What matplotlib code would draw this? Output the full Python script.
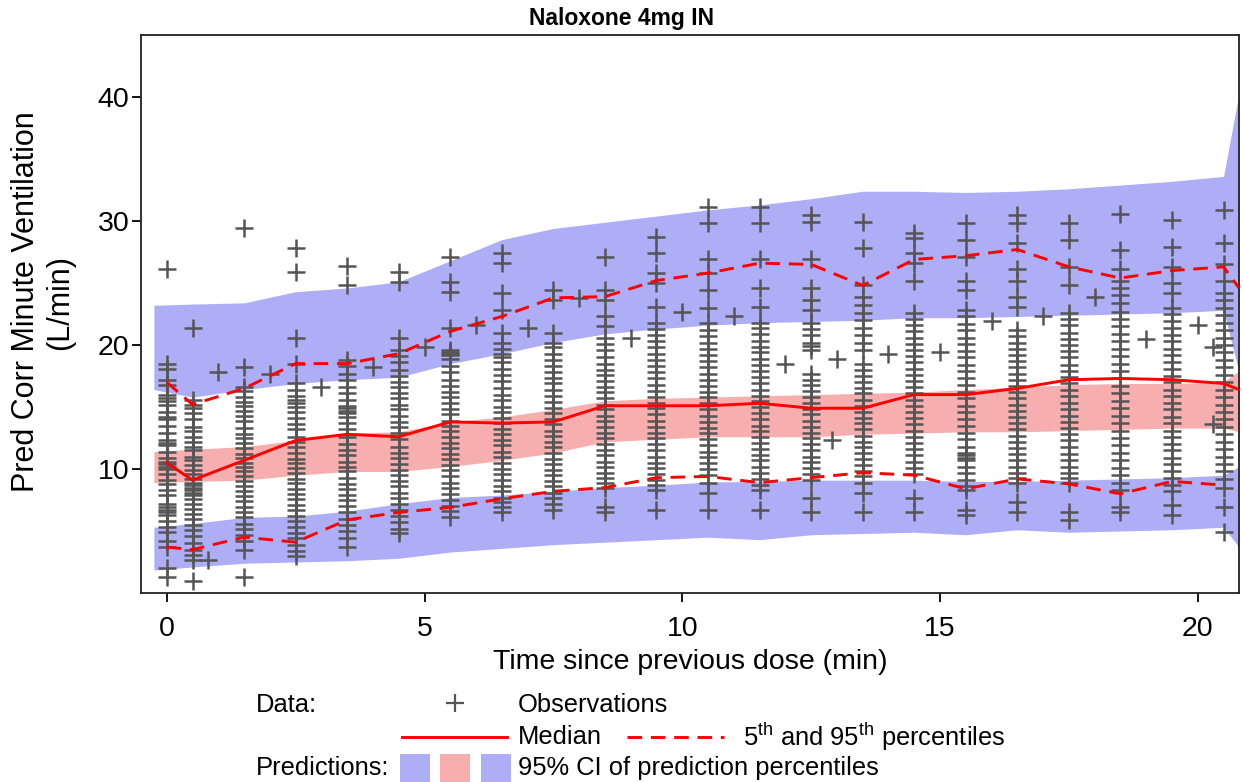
import matplotlib
matplotlib.use('Agg')
import matplotlib.pyplot as plt
from matplotlib.lines import Line2D
from matplotlib.patches import Rectangle

plt.rcParams['font.family'] = ['Liberation Sans', 'DejaVu Sans']
plt.rcParams['mathtext.fontset'] = 'custom'
plt.rcParams['mathtext.rm'] = 'Liberation Sans'
plt.rcParams['mathtext.it'] = 'Liberation Sans'

# ---------------- data ----------------
title = "Naloxone 4mg IN"
xlabel = "Time since previous dose (min)"
ylabel = "Pred Corr Minute Ventilation\n(L/min)"
xticks = [0, 5, 10, 15, 20]
yticks = [10, 20, 30, 40]

# prediction interval bands (vertices)
band_t = [-0.25, 0.5, 1.5, 2.5, 3.5, 4.5, 5.5, 6.5, 7.5, 8.5, 9.5, 10.5,
          11.5, 12.5, 13.5, 14.5, 15.5, 16.5, 17.5, 18.5, 19.5, 20.5, 20.8]
upper_ci_hi = [23.2, 23.3, 23.4, 24.3, 24.6, 25.1, 26.8, 28.5, 29.4, 29.9, 30.4, 30.9,
               31.3, 31.8, 32.4, 32.4, 32.3, 32.4, 32.6, 32.9, 33.2, 33.6, 40.3]
upper_ci_lo = [16.4, 15.8, 16.4, 16.9, 17.2, 17.4, 18.5, 19.3, 20.2, 20.9, 21.3, 21.6,
               21.8, 21.9, 22.0, 22.2, 22.2, 22.3, 22.4, 22.5, 22.6, 22.8, 17.8]
median_ci_hi = [11.4, 11.6, 11.8, 12.3, 12.9, 13.0, 13.8, 14.2, 14.8, 15.5, 15.7, 15.8,
                15.9, 16.0, 16.1, 16.2, 16.4, 16.6, 16.8, 16.9, 16.9, 17.0, 17.9]
median_ci_lo = [8.9, 9.0, 9.1, 9.5, 9.8, 9.8, 10.2, 10.7, 11.3, 12.2, 12.4, 12.6,
                12.6, 12.6, 12.8, 12.9, 13.0, 13.0, 13.1, 13.2, 13.3, 13.3, 13.0]
lower_ci_hi = [5.3, 5.6, 6.1, 6.2, 6.6, 7.2, 7.7, 7.9, 8.2, 8.5, 8.7, 8.95,
               9.0, 9.1, 9.1, 9.1, 9.0, 9.0, 9.1, 9.2, 9.3, 9.5, 10.2]
lower_ci_lo = [1.85, 2.1, 2.4, 2.5, 2.6, 2.8, 3.3, 3.6, 3.9, 4.1, 4.3, 4.5,
               4.3, 4.7, 4.8, 4.9, 4.7, 5.1, 4.9, 5.0, 5.1, 5.3, 3.7]

# observed percentiles
line_t = [0, 0.5, 1.5, 2.5, 3.5, 4.5, 5.5, 6.5, 7.5, 8.5, 9.5, 10.5,
          11.5, 12.5, 13.5, 14.5, 15.5, 16.5, 17.5, 18.5, 19.5, 20.5, 20.8]
obs_median = [10.5, 9.1, 10.7, 12.3, 12.8, 12.6, 13.8, 13.7, 13.8, 15.1, 15.1, 15.1,
              15.3, 14.9, 14.9, 16.0, 16.0, 16.5, 17.2, 17.3, 17.2, 16.9, 16.4]
obs_p95 = [17.0, 15.2, 16.5, 18.5, 18.5, 19.3, 21.1, 22.3, 23.8, 23.9, 25.2, 25.8,
           26.6, 26.5, 24.8, 26.9, 27.2, 27.7, 26.3, 25.4, 26.0, 26.3, 24.6]
p05_t = [0, 0.5, 1.5, 2.5, 3.5, 4.5, 5.5, 6.5, 7.5, 8.5, 9.5, 10.5,
         11.5, 12.5, 13.5, 14.5, 15.5, 16.5, 17.5, 18.5, 19.5, 20.5]
obs_p05 = [3.7, 3.5, 4.5, 4.1, 5.9, 6.5, 6.9, 7.6, 8.2, 8.5, 9.3, 9.4,
           8.9, 9.3, 9.7, 9.5, 8.4, 9.2, 8.8, 8.0, 9.0, 8.7]

# observations, per nominal time
obs_times = [0, 0.5, 1.5, 2.5, 3.5, 4.5, 5.5, 6.5, 7.5, 8.5, 9.5, 10.5,
             11.5, 12.5, 13.5, 14.5, 15.5, 16.5, 17.5, 18.5, 19.5, 20.5]
obs_t00 = [26.1, 18.5, 18.1, 17.2, 16.8, 16.0, 15.7, 15.5, 15.2, 14.6, 14.2, 14.0, 13.5, 12.9,
           12.3, 12.1, 11.9, 11.4, 10.9, 10.6, 10.4, 10.2, 10.0, 9.6, 9.1, 8.8, 8.3, 7.9, 7.2,
           6.9, 6.7, 6.5, 6.3, 5.8, 5.3, 4.9, 4.2, 3.7, 2.0, 1.3]
obs_t05 = [21.4, 15.6, 15.2, 14.9, 14.5, 14.0, 13.4, 13.1, 12.6, 12.2, 11.8, 11.5, 11.0, 10.7,
           10.3, 9.9, 9.6, 9.2, 8.9, 8.7, 8.5, 8.3, 8.1, 7.9, 7.6, 7.2, 6.8, 6.4, 6.0, 5.5,
           5.1, 4.6, 4.0, 3.5, 3.1, 2.7, 1.0]
obs_t15 = [29.4, 18.2, 16.6, 16.3, 15.8, 15.4, 15.1, 14.7, 14.3, 13.9, 13.3, 12.8, 12.5, 12.1,
           11.7, 11.2, 10.9, 10.5, 10.2, 9.8, 9.4, 9.0, 8.6, 8.2, 7.8, 7.4, 6.9, 6.5, 6.1,
           5.6, 5.2, 4.7, 4.2, 3.5, 1.3]
obs_t25 = [27.8, 25.9, 20.6, 18.5, 16.9, 16.4, 15.9, 15.6, 15.3, 15.0, 14.6, 14.1, 13.6, 13.2,
           12.6, 12.2, 11.8, 11.3, 10.8, 10.5, 10.1, 9.7, 9.2, 8.9, 8.4, 8.0, 7.6, 7.1, 6.7,
           6.2, 5.8, 5.3, 4.8, 4.4, 3.9, 3.4, 3.0]
obs_t35 = [26.4, 24.8, 18.8, 18.3, 17.7, 17.2, 16.6, 16.1, 15.6, 15.1, 14.9, 14.7, 14.5, 14.2,
           13.7, 13.2, 12.6, 12.0, 11.5, 11.1, 10.6, 10.2, 9.8, 9.3, 8.8, 8.4, 7.9, 7.5, 7.0,
           6.5, 6.0, 5.5, 5.0, 4.4, 3.7]
obs_t45 = [25.9, 25.1, 20.6, 19.6, 19.1, 18.6, 18.0, 17.5, 17.0, 16.6, 16.1, 15.7, 15.2, 14.8,
           14.3, 13.8, 13.4, 12.9, 12.4, 11.8, 11.3, 10.9, 10.4, 9.9, 9.5, 9.0, 8.6, 8.1, 7.7,
           7.2, 6.7, 6.2, 5.7, 5.2, 4.8]
obs_t55 = [27.1, 25.1, 24.3, 21.4, 19.6, 19.4, 19.3, 19.2, 18.9, 18.3, 17.8, 17.2, 16.7, 16.2,
           15.8, 15.3, 14.8, 14.4, 13.9, 13.5, 13.1, 12.6, 12.1, 11.7, 11.2, 10.8, 10.3, 9.9,
           9.4, 8.9, 8.5, 8.0, 7.5, 7.0, 6.6, 6.1]
obs_t65 = [27.4, 26.6, 24.2, 22.8, 21.0, 20.2, 19.7, 19.3, 19.0, 18.6, 18.1, 17.6, 17.1, 16.5,
           16.0, 15.6, 15.0, 14.6, 14.1, 13.7, 13.2, 12.8, 12.3, 11.9, 11.4, 11.0, 10.5, 10.0,
           9.6, 9.1, 8.6, 8.2, 7.7, 7.3, 6.9, 6.5]
obs_t75 = [24.4, 23.6, 21.0, 20.2, 19.8, 19.3, 18.8, 18.3, 17.8, 17.3, 16.9, 16.4, 15.9, 15.4,
           14.9, 14.5, 14.0, 13.6, 13.1, 12.7, 12.2, 11.8, 11.3, 10.8, 10.4, 9.9, 9.5, 9.0,
           8.6, 8.1, 7.7, 7.2, 6.7]
obs_t85 = [27.1, 24.4, 23.6, 22.3, 21.5, 20.6, 20.1, 19.6, 19.0, 18.5, 18.0, 17.6, 17.1, 16.6,
           16.2, 15.7, 15.2, 14.8, 14.3, 13.9, 13.4, 12.9, 12.5, 12.0, 11.5, 11.1, 10.6, 10.2,
           9.7, 9.3, 8.9, 8.5, 6.9, 6.5]
obs_t95 = [28.7, 27.4, 25.8, 25.0, 23.1, 21.8, 21.3, 20.8, 20.3, 19.8, 19.3, 18.8, 18.3, 17.8,
           17.3, 16.8, 16.3, 15.8, 15.3, 14.9, 14.4, 13.9, 13.4, 12.9, 12.5, 12.0, 11.5, 11.0,
           10.5, 10.1, 9.6, 9.1, 8.7, 8.3, 6.7]
obs_t105 = [31.1, 29.8, 26.9, 25.8, 24.4, 23.0, 21.8, 21.2, 20.7, 20.2, 19.7, 19.2, 18.7, 18.2,
            17.7, 17.2, 16.7, 16.2, 15.8, 15.3, 14.8, 14.3, 13.8, 13.3, 12.9, 12.4, 11.9, 11.4,
            11.0, 10.5, 10.0, 9.5, 8.9, 8.1, 6.7]
obs_t115 = [31.1, 29.8, 26.9, 24.6, 23.1, 21.8, 21.4, 20.9, 20.3, 19.8, 19.4, 18.9, 18.4, 17.9,
            17.4, 16.9, 16.4, 15.9, 15.5, 15.0, 14.5, 14.0, 13.5, 13.1, 12.6, 12.1, 11.6, 11.1,
            10.7, 10.2, 9.7, 9.2, 8.7, 8.3, 6.7]
obs_t125 = [30.5, 29.9, 26.9, 24.6, 23.6, 22.8, 21.8, 21.3, 20.8, 20.2, 19.9, 19.6, 17.7, 17.2,
            16.8, 16.3, 15.8, 15.3, 14.8, 14.4, 13.9, 13.4, 12.9, 12.5, 12.0, 11.5, 11.0, 10.6,
            10.1, 9.6, 9.1, 7.7, 6.5]
obs_t135 = [29.9, 27.8, 24.8, 23.9, 23.2, 22.6, 22.0, 21.4, 20.8, 20.2, 19.6, 18.5, 18.0, 17.5,
            17.0, 16.5, 16.1, 15.6, 15.1, 14.6, 14.1, 13.7, 13.2, 12.7, 12.2, 11.8, 11.3, 10.8,
            10.3, 9.8, 9.4, 8.9, 8.1, 6.5]
obs_t145 = [29.0, 28.6, 27.4, 26.6, 25.2, 22.6, 22.1, 21.6, 21.1, 20.6, 20.1, 19.6, 19.1, 18.6,
            18.1, 17.6, 17.1, 16.6, 16.1, 15.6, 15.1, 14.6, 14.1, 13.6, 13.1, 12.6, 12.1, 11.6,
            11.1, 10.6, 10.1, 9.6, 7.7, 6.5]
obs_t155 = [29.8, 28.5, 27.1, 25.2, 24.4, 22.8, 22.3, 21.7, 21.2, 20.6, 20.1, 19.5, 19.0, 18.4,
            17.9, 17.3, 16.8, 16.2, 15.7, 15.1, 14.6, 14.0, 13.5, 12.9, 12.4, 11.8, 11.3, 11.1,
            10.9, 10.7, 10.2, 9.7, 9.1, 8.6, 8.3, 6.7, 6.3]
obs_t165 = [30.5, 29.8, 28.2, 26.1, 25.2, 23.9, 23.1, 21.2, 20.7, 20.2, 19.7, 19.2, 18.7, 18.2,
            17.7, 17.2, 16.7, 16.2, 15.7, 15.2, 14.7, 14.2, 13.7, 13.2, 12.7, 12.2, 11.7, 11.2,
            10.7, 10.2, 9.7, 9.3, 8.9, 7.3, 6.5]
obs_t175 = [29.8, 28.5, 26.3, 24.8, 22.6, 22.1, 21.6, 21.0, 20.5, 20.0, 19.5, 19.0, 18.4, 17.9,
            17.4, 16.9, 16.4, 15.9, 15.3, 14.8, 14.3, 13.8, 13.3, 12.8, 12.3, 11.8, 11.2, 10.7,
            10.2, 9.7, 9.3, 8.9, 6.5, 5.9]
obs_t185 = [30.6, 27.7, 26.1, 25.2, 24.6, 24.0, 23.4, 22.7, 22.1, 21.5, 20.9, 20.3, 19.7, 19.1,
            18.5, 17.9, 17.3, 16.7, 16.1, 15.5, 14.9, 14.3, 13.7, 13.1, 12.5, 11.9, 11.3, 10.7,
            10.1, 9.5, 8.9, 8.3, 6.9, 6.5]
obs_t195 = [30.1, 27.9, 26.3, 25.0, 24.2, 23.0, 22.5, 21.9, 21.4, 20.8, 20.3, 19.7, 19.2, 18.6,
            18.1, 17.5, 17.0, 16.4, 15.9, 15.3, 14.8, 14.2, 13.7, 13.1, 12.6, 12.0, 11.5, 10.9,
            10.4, 9.8, 9.3, 8.7, 8.2, 7.1, 6.3]
obs_t205 = [30.9, 28.2, 26.5, 25.2, 24.2, 23.6, 23.0, 22.4, 21.8, 21.2, 20.6, 20.0, 19.4, 18.8,
            18.2, 17.6, 17.0, 16.4, 15.8, 15.2, 14.6, 14.0, 13.4, 12.8, 12.2, 11.6, 11.0, 10.4,
            9.8, 9.2, 8.5, 6.9, 4.9]
# off-nominal observations
extra_t = [0.8, 1.0, 2.0, 3.0, 4.0, 5.0, 6.0, 7.0, 8.0, 9.0, 10.0, 11.0, 12.0, 12.9,
           13.0, 14.0, 15.0, 16.0, 17.0, 18.0, 19.0, 20.0, 20.3, 20.3]
extra_v = [2.7, 17.8, 17.7, 16.6, 18.2, 19.8, 21.6, 21.4, 23.8, 20.6, 22.7, 22.3, 18.5, 12.3,
           18.9, 19.3, 19.4, 21.9, 22.3, 23.9, 20.5, 21.6, 19.8, 13.6]

obs_lists = [obs_t00, obs_t05, obs_t15, obs_t25, obs_t35, obs_t45, obs_t55, obs_t65,
             obs_t75, obs_t85, obs_t95, obs_t105, obs_t115, obs_t125, obs_t135, obs_t145,
             obs_t155, obs_t165, obs_t175, obs_t185, obs_t195, obs_t205]

# ---------------- style ----------------
BLUE = '#AEAEF7'
PINK = '#F6AEAE'
RED = '#FF0000'
GREY = '#555555'
FS = 20.5
LFS = 18.4
LW = 2.1
DASH = (5.0, 3.0)

W, H = 1243, 782
fig = plt.figure(figsize=(W / 100, H / 100), dpi=100)
ax = fig.add_axes([141 / W, 1 - 593 / H, (1239 - 141) / W, (593 - 35) / H])

ax.fill_between(band_t, upper_ci_lo, upper_ci_hi, color=BLUE, lw=0, zorder=1)
ax.fill_between(band_t, median_ci_lo, median_ci_hi, color=PINK, lw=0, zorder=1)
ax.fill_between(band_t, lower_ci_lo, lower_ci_hi, color=BLUE, lw=0, zorder=1)

xs, ys = [], []
for t, vals in zip(obs_times, obs_lists):
    xs += [t] * len(vals)
    ys += vals
xs += extra_t
ys += extra_v
ax.plot(xs, ys, ls='none', marker='+', ms=12.5, mew=1.8, color=GREY, zorder=2)

ax.plot(line_t, obs_median, color=RED, lw=LW, zorder=3)
ax.plot(line_t, obs_p95, color=RED, lw=LW, dashes=DASH, zorder=3)
ax.plot(p05_t, obs_p05, color=RED, lw=LW, dashes=DASH, zorder=3)

ax.set_xlim(-0.5, 20.8)
ax.set_ylim(0, 45)
ax.set_xticks(xticks)
ax.set_yticks(yticks)
ax.tick_params(direction='out', length=6.5, width=1.3, labelsize=FS, color='black')
ax.tick_params(axis='x', pad=10)
ax.tick_params(axis='y', pad=2)
for s in ax.spines.values():
    s.set_linewidth(1.3)
    s.set_color('#222222')

ax.set_xlabel(xlabel, fontsize=FS)
ax.xaxis.label.set_va('center')
ax.xaxis.set_label_coords(0.5, (593 - 662) / 558)
ax.set_ylabel(ylabel, fontsize=22, linespacing=1.15)
ax.yaxis.label.set_va('center')
ax.yaxis.set_label_coords((43 - 141) / 1098, (593 - 302) / 558)

fig.text(0.5, 1 - 18 / H, title, ha='center', va='center', fontsize=16.5, fontweight='bold')

# ---------------- legend (figure-pixel layout) ----------------
lg = fig.add_axes([0, 0, 1, 1], zorder=5)
lg.set_xlim(0, W)
lg.set_ylim(H, 0)
lg.axis('off')
lg.patch.set_alpha(0)
r1, r2, r3 = 705, 737, 768
lg.text(256, r1, "Data:", fontsize=LFS, va='center', ha='left')
lg.add_line(Line2D([455], [r1 - 2], ls='none', marker='+', ms=12.5, mew=1.6, color=GREY))
lg.text(518, r1, "Observations", fontsize=LFS, va='center', ha='left')
lg.add_line(Line2D([402, 507], [r2, r2], color=RED, lw=LW))
lg.text(518, r2, "Median", fontsize=LFS, va='center', ha='left')
lg.add_line(Line2D([627, 724], [r2, r2], color=RED, lw=LW, dashes=DASH))
lg.text(743, r2, r"5$^{\rm th}$ and 95$^{\rm th}$ percentiles", fontsize=LFS, va='center', ha='left')
lg.text(256, r3, "Predictions:", fontsize=LFS, va='center', ha='left')
for x0, c in [(400, BLUE), (440, PINK), (481, BLUE)]:
    lg.add_patch(Rectangle((x0, r3 - 14), 30, 28, color=c, lw=0))
lg.text(518, r3, "95% CI of prediction percentiles", fontsize=LFS, va='center', ha='left')

fig.savefig('out.png', dpi=100)
